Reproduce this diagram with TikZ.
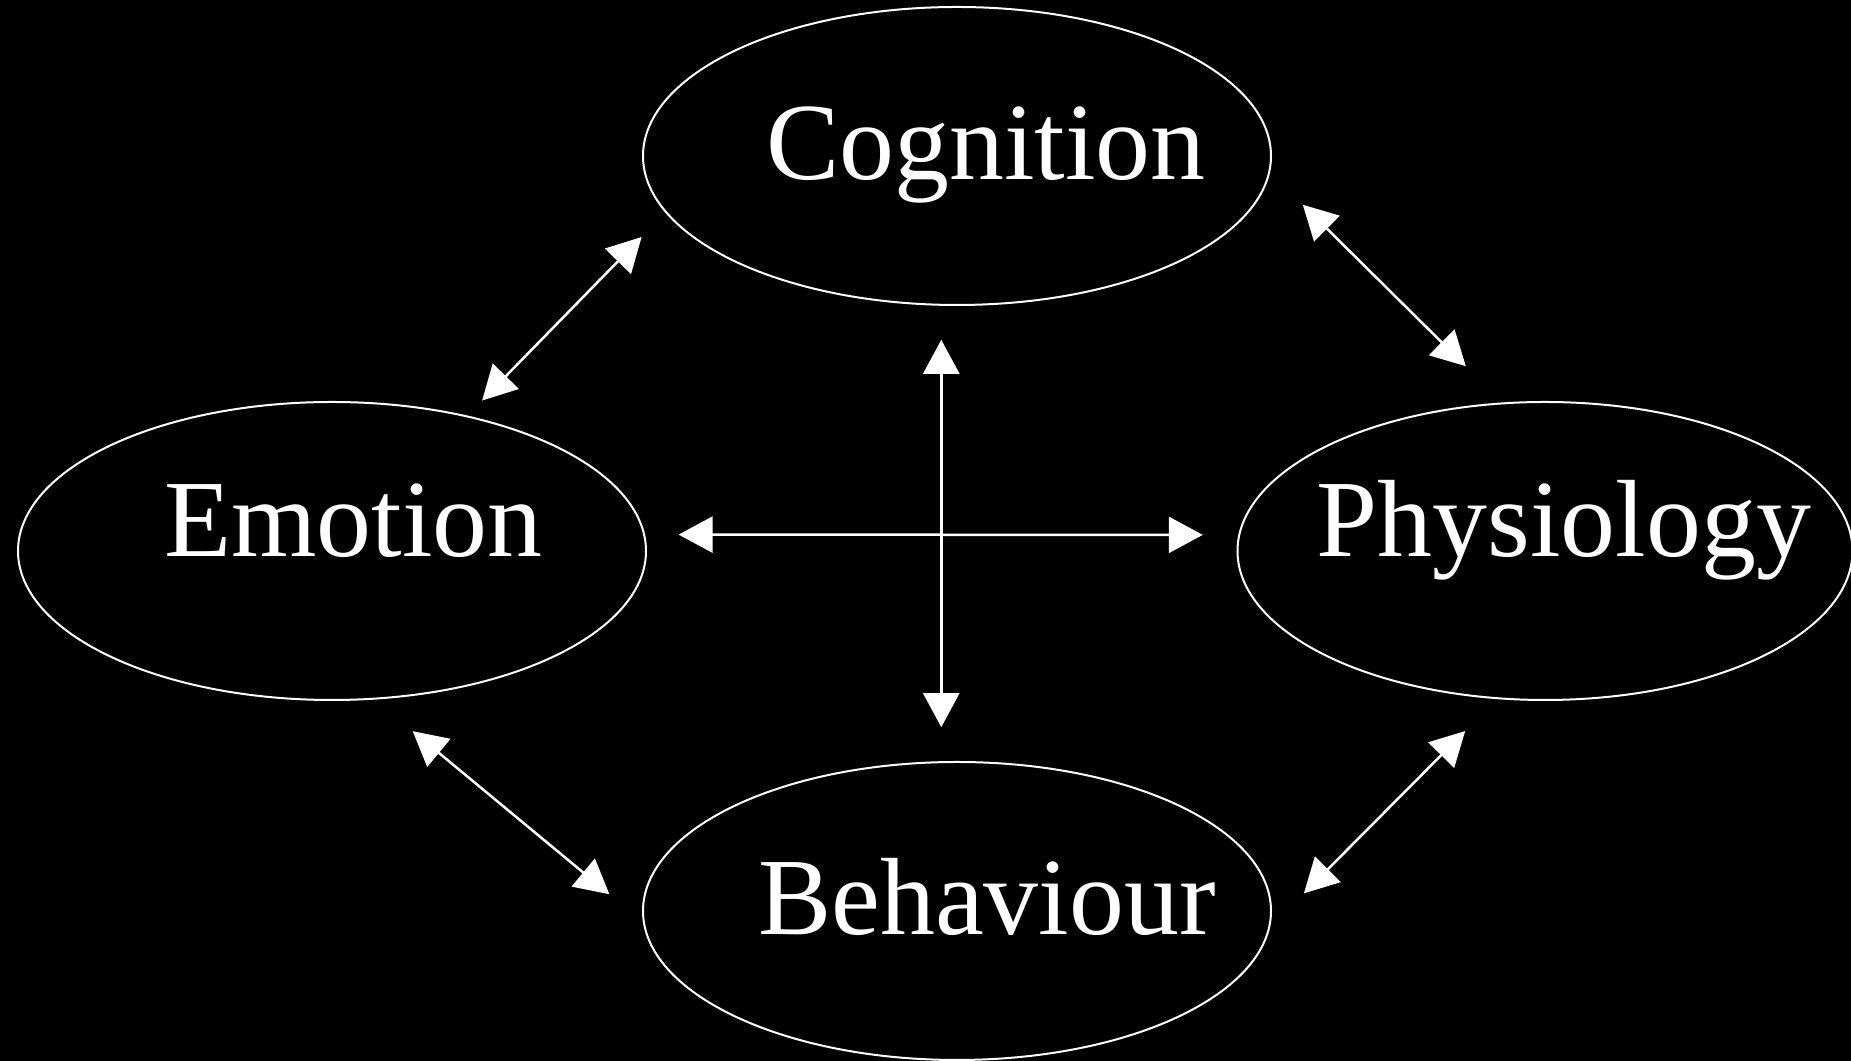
\documentclass[tikz,border=0pt]{standalone}
\usepackage{fontspec}
\setmainfont{Liberation Serif}
\usepackage{tikz}
\usetikzlibrary{shapes.geometric, arrows.meta}
\tikzstyle{blob} = [draw=white, ellipse, line width=0.04cm, minimum width=12.56cm, minimum height=5.96cm, inner sep=0pt]
\tikzstyle{lbl} = [anchor=base, text=white, inner sep=0pt, font=\fontsize{62.5}{75}\selectfont]
\tikzstyle{link} = [draw=white, line width=0.05cm, {Triangle[length=0.68cm, width=0.72cm]}-{Triangle[length=0.68cm, width=0.72cm]}]

\begin{document}
\begin{tikzpicture}
    \path[fill=black, use as bounding box] (0,0) rectangle (37.02,21.22);

    \node (cog) [blob] at (19.14,18.10) {};
    \node (emo) [blob] at (6.64,10.20) {};
    \node (phys) [blob, minimum width=12.30cm] at (30.90,10.20) {};
    \node (beh) [blob] at (19.14,3.00) {};

    \path (cog)+(0.58,-0.48) node (cogtxt) [lbl] {Cognition};
    \path (emo)+(0.43,-0.12) node (emotxt) [lbl] {Emotion};
    \path (phys)+(0.38,-0.12) node (phystxt) [lbl] {Physiology};
    \path (beh)+(0.60,-0.48) node (behtxt) [lbl] {Behaviour};

    \foreach \a/\b/\s/\t in {emo.45/cog.191/0.42cm/0.68cm, cog.357/phys.106/0.92cm/1.03cm,
        emo.286/beh.182/0.99cm/0.87cm, beh.357/phys.252/0.96cm/0.90cm,
        cog.264/beh.96/0.68cm/0.68cm, emo.3/phys.177/0.67cm/0.71cm}
    {
        \path [link, shorten <=\s, shorten >=\t] (\a) -- (\b);
    }
\end{tikzpicture}
\end{document}
